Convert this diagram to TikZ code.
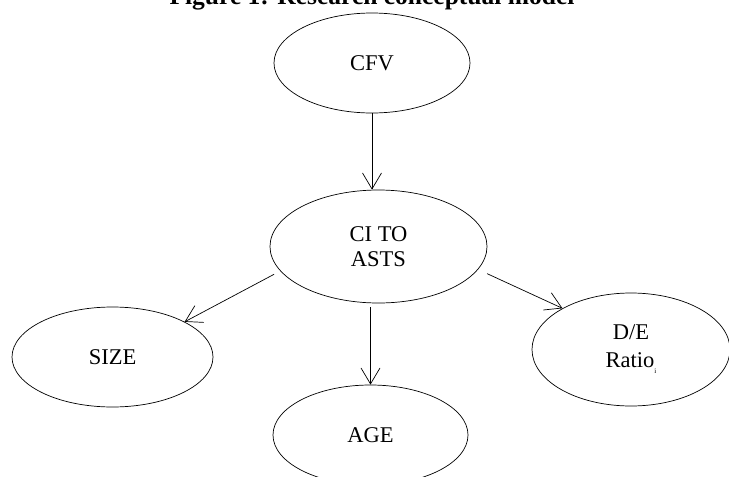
\documentclass[tikz,border=0pt]{standalone}
\usepackage{fontspec}
\setmainfont{Liberation Serif}
\usetikzlibrary{shapes.geometric,arrows.meta}
\begin{document}
\begin{tikzpicture}[x=1pt,y=-1pt,
  oval/.style={ellipse,draw,line width=0.7pt,inner sep=0pt,align=center,
    font=\fontsize{22.5}{25}\selectfont},
  link/.style={line width=0.7pt,
    -{Straight Barb[length=16pt,width=19pt,line width=0.7pt]}},
  titletext/.style={font=\bfseries\fontsize{25.5}{28}\selectfont,anchor=base,inner sep=0pt}]
\path[use as bounding box] (0,0) rectangle (729,477);
\clip (0,0) rectangle (729,477);
\node[titletext] (title) at (372,4) {Figure 1: Research conceptual model};
\node[oval,minimum width=196pt,minimum height=100pt] (cfv) at (372,63) {CFV};
\node[oval,minimum width=217pt,minimum height=113pt] (ci) at (378.5,246.5) {CI TO\\ASTS};
\node[oval,minimum width=201pt,minimum height=100pt] (size) at (112.5,357) {SIZE};
\node[oval,minimum width=195pt,minimum height=100pt] (age) at (370.5,435) {AGE};
\node[oval,minimum width=198pt,minimum height=113pt,
  font=\fontsize{22.5}{28}\selectfont] (de) at (631,349.5)
  {D/E\\Ratio\raisebox{-6pt}{\fontsize{7}{7}\selectfont i}};
\draw[link] (cfv.south) -- (cfv.south |- ci.north);
\draw[link,shorten <=7pt] (ci.194.5) -- (size.26);
\draw[link,shorten <=4pt] (age.north |- ci.south) -- (age.north);
\draw[link,shorten <=10pt] (ci.347.3) -- (de.149);
\end{tikzpicture}
\end{document}
